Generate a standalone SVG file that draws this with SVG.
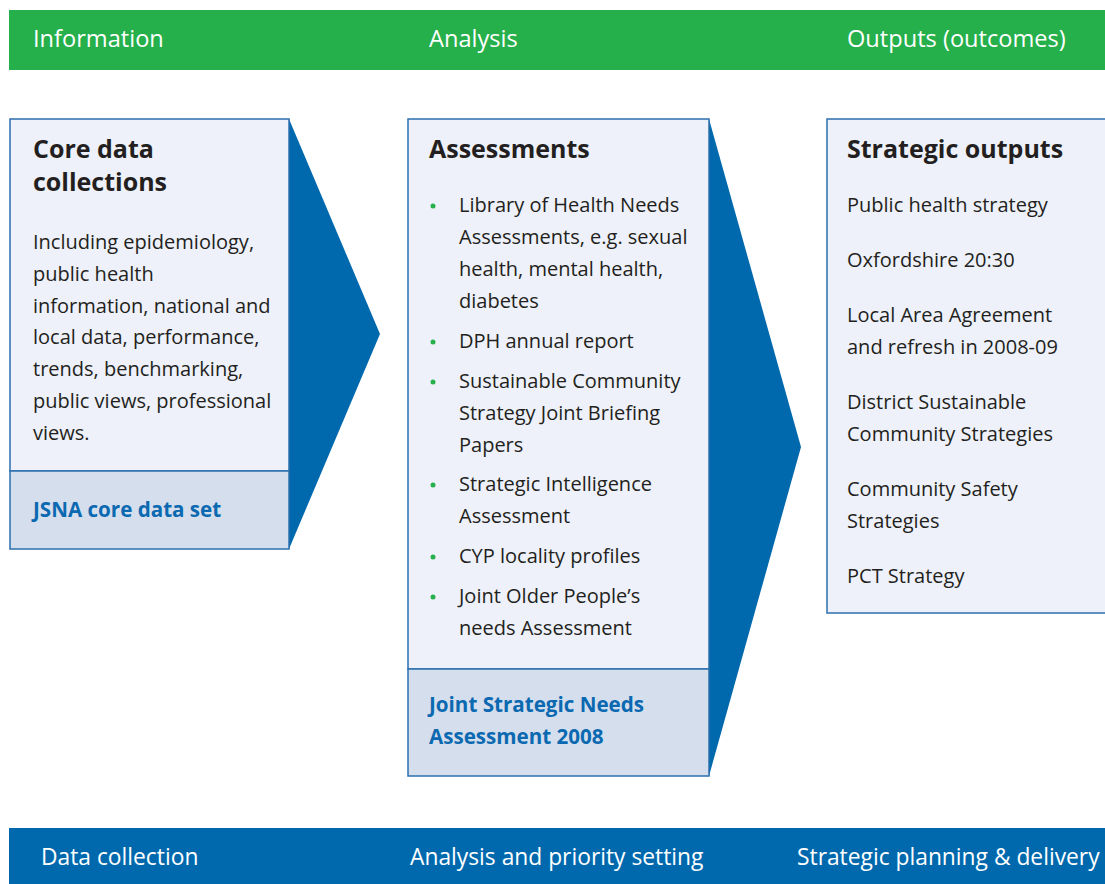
<svg xmlns="http://www.w3.org/2000/svg" width="1105" height="884" viewBox="0 0 1105 884">
  <style>
    .bar-text { font-family: "Open Sans", "Noto Sans", sans-serif; font-size: 23.6px; fill: #ffffff; }
    .foot-text { font-family: "Open Sans", "Noto Sans", sans-serif; font-size: 22.8px; fill: #ffffff; }
    .title { font-family: "Open Sans", "Noto Sans", sans-serif; font-size: 25px; font-weight: bold; fill: #231f20; }
    .body { font-family: "Open Sans", "Noto Sans", sans-serif; font-size: 20px; fill: #231f20; }
    .foot-label { font-family: "Open Sans", "Noto Sans", sans-serif; font-size: 20.6px; font-weight: bold; fill: #0a69b0; }
    .panel { fill: #eef1f9; stroke: #2b6fae; stroke-width: 1.5; }
    .panel-foot { fill: #d5deed; stroke: #2b6fae; stroke-width: 1.5; }
    .chevron { fill: #0069ae; }
    .bullet { fill: #25b04b; }
  </style>

  <!-- Top stage bar -->
  <g id="top-bar">
    <rect x="9" y="10" width="1096" height="60" fill="#25b04b"/>
    <text class="bar-text" x="33" y="47">Information</text>
    <text class="bar-text" x="429" y="47">Analysis</text>
    <text class="bar-text" x="847" y="47">Outputs (outcomes)</text>
  </g>

  <!-- Chevron connectors between the panels -->
  <g id="connectors">
    <polygon class="chevron" points="289,119 380,334 289,549"/>
    <polygon class="chevron" points="709,119 801,447 709,776"/>
  </g>

  <!-- Information panel -->
  <g id="core-data">
    <rect class="panel" x="10" y="119" width="279" height="352"/>
    <rect class="panel-foot" x="10" y="471" width="279" height="78"/>
    <text class="title" x="33" y="158">Core data</text>
    <text class="title" x="33" y="191">collections</text>
    <text class="body" x="33" y="249">Including epidemiology,</text>
    <text class="body" x="33" y="281">public health</text>
    <text class="body" x="33" y="313">information, national and</text>
    <text class="body" x="33" y="344">local data, performance,</text>
    <text class="body" x="33" y="376">trends, benchmarking,</text>
    <text class="body" x="33" y="408">public views, professional</text>
    <text class="body" x="33" y="440">views.</text>
    <text class="foot-label" x="33" y="517">JSNA core data set</text>
  </g>

  <!-- Analysis panel -->
  <g id="assessments">
    <rect class="panel" x="408" y="119" width="301" height="550"/>
    <rect class="panel-foot" x="408" y="669" width="301" height="107"/>
    <text class="title" x="429" y="158">Assessments</text>
    <circle class="bullet" cx="433" cy="206" r="2.5"/>
    <text class="body" x="459" y="212">Library of Health Needs</text>
    <text class="body" x="459" y="244">Assessments, e.g. sexual</text>
    <text class="body" x="459" y="276">health, mental health,</text>
    <text class="body" x="459" y="308">diabetes</text>
    <circle class="bullet" cx="433" cy="342" r="2.5"/>
    <text class="body" x="459" y="348">DPH annual report</text>
    <circle class="bullet" cx="433" cy="382" r="2.5"/>
    <text class="body" x="459" y="388">Sustainable Community</text>
    <text class="body" x="459" y="420">Strategy Joint Briefing</text>
    <text class="body" x="459" y="452">Papers</text>
    <circle class="bullet" cx="433" cy="485" r="2.5"/>
    <text class="body" x="459" y="491">Strategic Intelligence</text>
    <text class="body" x="459" y="523">Assessment</text>
    <circle class="bullet" cx="433" cy="557" r="2.5"/>
    <text class="body" x="459" y="563">CYP locality profiles</text>
    <circle class="bullet" cx="433" cy="597" r="2.5"/>
    <text class="body" x="459" y="603">Joint Older People’s</text>
    <text class="body" x="459" y="635">needs Assessment</text>
    <text class="foot-label" x="429" y="712">Joint Strategic Needs</text>
    <text class="foot-label" x="429" y="744">Assessment 2008</text>
  </g>

  <!-- Outputs panel -->
  <g id="strategic-outputs">
    <rect class="panel" x="827" y="119" width="285" height="494"/>
    <text class="title" x="847" y="158">Strategic outputs</text>
    <text class="body" x="847" y="212">Public health strategy</text>
    <text class="body" x="847" y="267">Oxfordshire 20:30</text>
    <text class="body" x="847" y="322">Local Area Agreement</text>
    <text class="body" x="847" y="354">and refresh in 2008-09</text>
    <text class="body" x="847" y="409">District Sustainable</text>
    <text class="body" x="847" y="441">Community Strategies</text>
    <text class="body" x="847" y="496">Community Safety</text>
    <text class="body" x="847" y="528">Strategies</text>
    <text class="body" x="847" y="583">PCT Strategy</text>
  </g>

  <!-- Bottom process bar -->
  <g id="bottom-bar">
    <rect x="9" y="828" width="1096" height="56" fill="#0069ae"/>
    <text class="foot-text" x="41" y="865">Data collection</text>
    <text class="foot-text" x="410" y="865">Analysis and priority setting</text>
    <text class="foot-text" x="797" y="865">Strategic planning &amp; delivery</text>
  </g>
</svg>
